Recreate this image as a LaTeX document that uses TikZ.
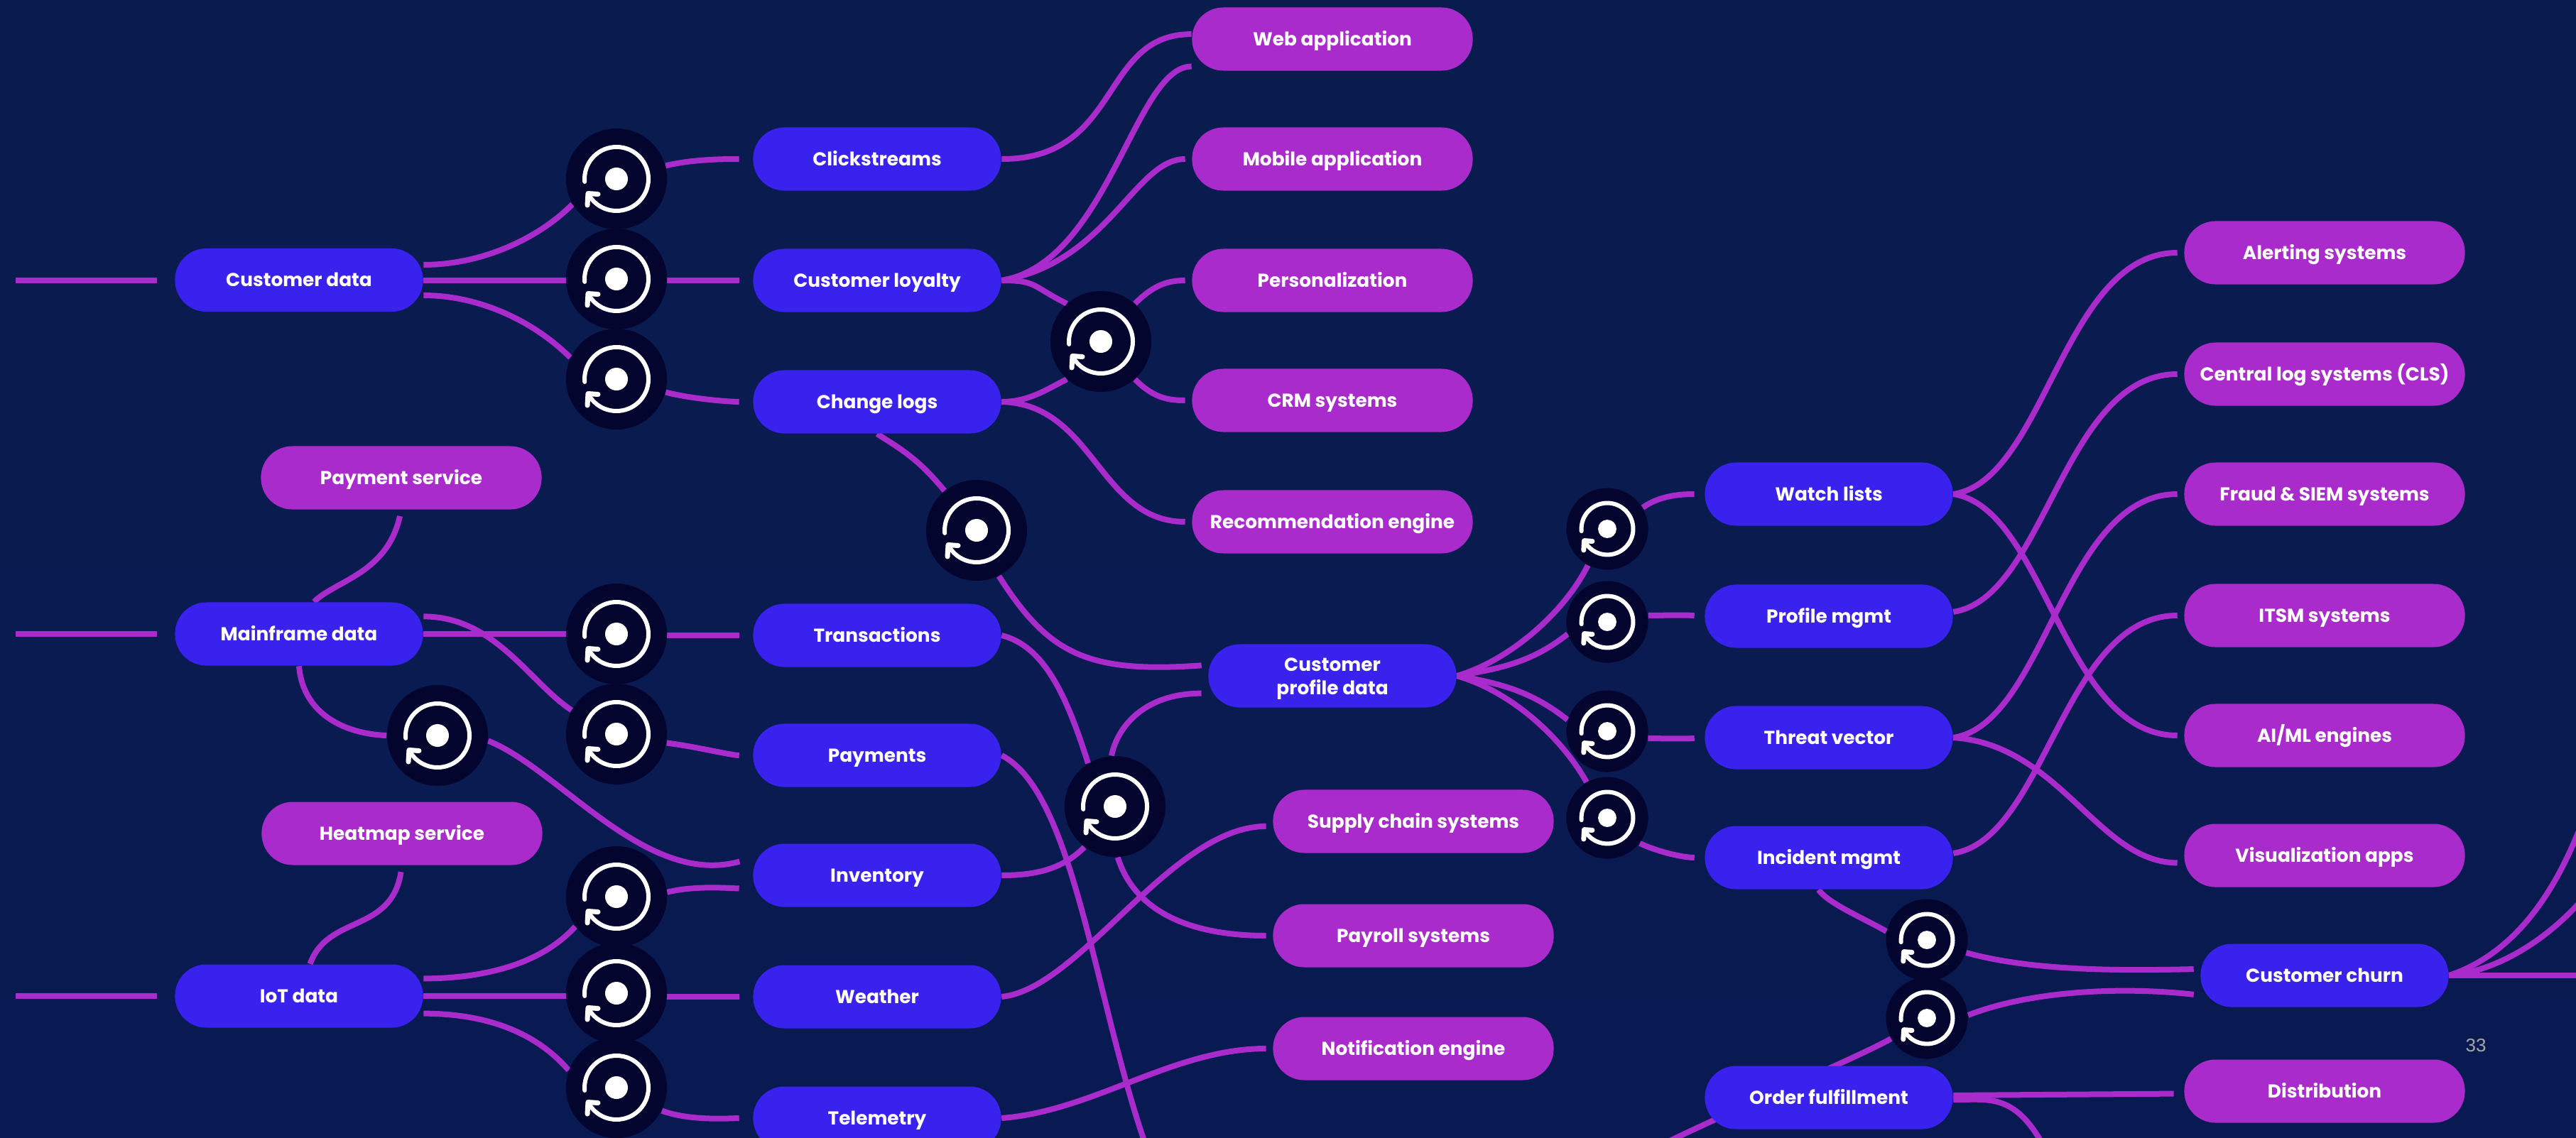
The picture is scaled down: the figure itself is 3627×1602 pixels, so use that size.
\documentclass[tikz,border=0pt]{standalone}
\usepackage{xcolor}
\usepackage{fontspec}
\usetikzlibrary{backgrounds}
\setmainfont{Poppins}
\newfontfamily\pagefont{Liberation Sans}
\definecolor{slidetop}{HTML}{0A1C4E}
\definecolor{slidemid}{HTML}{0B1E56}
\definecolor{slidelow}{HTML}{091A52}
\definecolor{pillblue}{HTML}{3A22EE}
\definecolor{pillpurple}{HTML}{A92BCC}
\definecolor{hubdark}{HTML}{03052F}
\begin{document}
\begin{tikzpicture}[x=0.01cm,y=-0.01cm,
  font=\fontsize{7.5}{9.2}\selectfont\bfseries,
  pill/.style={rectangle,rounded corners=0.44cm,text=white,align=center,minimum height=0.89cm,inner sep=0pt,text height=6pt,text depth=0.8pt},
  source/.style={pill,fill=pillblue,minimum width=3.49cm},
  sink/.style={pill,fill=pillpurple,minimum width=3.95cm},
  hubmark/.pic={
    \fill[white] (0,0) circle (16);
    \draw[white,line width=0.06cm,line cap=round,line join=round] (-44.8,3.9) arc[start angle=-185,end angle=147,radius=45] -- (-40,20.5);
    \draw[white,line width=0.07cm,line cap=round,line join=round] (-26,21.5) -- (-40,20.5) -- (-41,37);
  },
  bighub/.style={circle,fill=hubdark,minimum size=1.42cm,inner sep=0pt,
    path picture={\pic at (path picture bounding box.center) {hubmark};}},
  smallhub/.style={circle,fill=hubdark,minimum size=1.15cm,inner sep=0pt,
    path picture={\pic[scale=0.81] at (path picture bounding box.center) {hubmark};}},
  link/.style={draw=pillpurple,line width=0.08cm},
  gap/.style={shorten >=0.09cm},
  midgap/.style={shorten >=0.14cm},
  widegap/.style={shorten >=0.19cm}]
  \useasboundingbox (0,0) rectangle (3627,1602);

  \node[source] (custdata) at (421,394.5) {Customer data};
  \node[source] (mainframe) at (421,893) {Mainframe data};
  \node[source] (iotdata) at (421,1403) {IoT data};
  \node[sink] (payservice) at (565,673) {Payment service};
  \node[sink] (heatmap) at (566,1174) {Heatmap service};

  \node[source] (clickstreams) at (1235,224) {Clickstreams};
  \node[source] (loyalty) at (1235,395) {Customer loyalty};
  \node[source] (changelogs) at (1235,566) {Change logs};
  \node[source] (transactions) at (1235,895) {Transactions};
  \node[source] (payments) at (1235,1064) {Payments};
  \node[source] (inventory) at (1235,1233) {Inventory};
  \node[source] (weather) at (1235,1404) {Weather};
  \node[source] (telemetry) at (1235,1575) {Telemetry};

  \node[sink] (webapp) at (1876,55) {Web application};
  \node[sink] (mobileapp) at (1876,224) {Mobile application};
  \node[sink] (personal) at (1876,395) {Personalization};
  \node[sink] (crm) at (1876,564) {CRM systems};
  \node[sink] (recommend) at (1876,735) {Recommendation engine};

  \node[source,text height=,text depth=] (profile) at (1876,952) {\rule{0pt}{7.6pt}Customer\\profile data};
  \node[sink] (supply) at (1990,1157) {Supply chain systems};
  \node[sink] (payroll) at (1990,1318) {Payroll systems};
  \node[sink] (notify) at (1990,1477) {Notification engine};

  \node[source] (watch) at (2575,696) {Watch lists};
  \node[source] (profmgmt) at (2575,868) {Profile mgmt};
  \node[source] (threat) at (2575,1039) {Threat vector};
  \node[source] (incident) at (2575,1208) {Incident mgmt};
  \node[source] (order) at (2575,1546) {Order fulfillment};

  \node[sink] (alerting) at (3273,356) {Alerting systems};
  \node[sink] (centrallog) at (3273,527) {Central log systems (CLS)};
  \node[sink] (fraud) at (3273,696) {Fraud \& SIEM systems};
  \node[sink] (itsm) at (3273,867) {ITSM systems};
  \node[sink] (aiml) at (3273,1036) {AI/ML engines};
  \node[sink] (visual) at (3273,1205) {Visualization apps};
  \node[source] (churn) at (3273,1374) {Customer churn};
  \node[sink] (distrib) at (3273,1537) {Distribution};

  \node[bighub] (huba) at (868,252) {};
  \node[bighub] (hubb) at (868,393) {};
  \node[bighub] (hubc) at (868,534) {};
  \node[bighub] (hubd) at (868,893) {};
  \node[bighub] (hube) at (868,1034) {};
  \node[bighub] (hubf) at (616,1036) {};
  \node[bighub] (hubg) at (868,1263) {};
  \node[bighub] (hubh) at (868,1399) {};
  \node[bighub] (hubi) at (868,1532) {};
  \node[bighub] (hubj) at (1550,481) {};
  \node[bighub] (hubk) at (1375,747) {};
  \node[bighub] (hubl) at (1570,1136) {};
  \node[smallhub] (hubm) at (2263,745) {};
  \node[smallhub] (hubn) at (2263,876) {};
  \node[smallhub] (hubo) at (2263,1030) {};
  \node[smallhub] (hubp) at (2263,1152) {};
  \node[smallhub] (hubq) at (2713,1324) {};
  \node[smallhub] (hubr) at (2713,1434) {};

  \node[font=\pagefont\fontsize{7.4}{9}\selectfont,text=gray!70!white,inner sep=0pt] (pagenum) at (3486,1473) {33};

  \coordinate (custin) at (22,394.5);
  \coordinate (mainin) at (22,893);
  \coordinate (iotin) at (22,1403);
  \coordinate (payout) at (1612,1610);
  \coordinate (orderin) at (2345,1610);
  \coordinate (orderout) at (2875,1610);
  \coordinate (churnup) at (3635,1160);
  \coordinate (churnmid) at (3635,1268);
  \coordinate (churnoff) at (3635,1374);

  \begin{pgfonlayer}{background}
    \shade[top color=slidetop,middle color=slidemid,bottom color=slidelow] (0,0) rectangle (3627,1602);

    \draw[link,shorten >=0.25cm] (custin) -- (custdata.west);
    \draw[link,shorten >=0.25cm] (mainin) -- (mainframe.west);
    \draw[link,shorten >=0.25cm] (iotin) -- (iotdata.west);

    \draw[link] (custdata.7) .. controls +(80,0) and +(-50,50) .. (huba.210);
    \draw[link] (custdata.east) -- (custdata.east -| hubb);
    \draw[link] (custdata.353) .. controls +(80,0) and +(-50,-50) .. (hubc.155);
    \draw[link,widegap] (huba.15) .. controls +(40,-10) and +(-30,0) .. (clickstreams.west);
    \draw[link,widegap] (loyalty.west -| hubb) -- (loyalty.west);
    \draw[link,widegap] (hubc.345) .. controls +(40,10) and +(-30,0) .. (changelogs.west);

    \draw[link] (clickstreams.east) .. controls +(170,0) and +(-130,0) .. (webapp.178);
    \draw[link] (loyalty.east) .. controls +(150,-25) and +(-80,0) .. (webapp.191);
    \draw[link,gap] (loyalty.east) .. controls +(150,-25) and +(-80,0) .. (mobileapp.west);
    \draw[link] (loyalty.east) .. controls +(50,0) and +(-50,-25) .. (hubj.132);
    \draw[link] (changelogs.east) .. controls +(40,0) and +(-25,12) .. (hubj.228);
    \draw[link,gap] (hubj.48) .. controls +(25,-25) and +(-35,0) .. (personal.west);
    \draw[link,gap] (hubj.312) .. controls +(25,25) and +(-35,0) .. (crm.west);
    \draw[link,gap] (changelogs.east) .. controls +(130,3) and +(-130,0) .. (recommend.west);

    \draw[link] (changelogs.south) .. controls +(40,25) and +(-35,-42) .. (hubk.129);
    \draw[link,gap] (hubk.296) .. controls +(70,110) and +(-170,12) .. (profile.175);

    \draw[link,gap] (mainframe.65) .. controls +(30,-30) and +(-20,90) .. (payservice.south);
    \draw[link] (mainframe.south) .. controls +(5,62) and +(-67,-3) .. (hubf.west);
    \draw[link] (mainframe.east) -- (mainframe.east -| hubd);
    \draw[link] (mainframe.8) .. controls +(100,0) and +(-60,-40) .. (hube.152);
    \draw[link,widegap] (transactions.west -| hubd) -- (transactions.west);
    \draw[link,widegap] (hube.350) .. controls +(40,5) and +(-30,0) .. (payments.west);
    \draw[link,widegap] (hubf.354) .. controls +(100,40) and +(-150,42) .. (inventory.172);

    \draw[link,gap] (iotdata.71) .. controls +(25,-70) and +(-15,96) .. (heatmap.south);
    \draw[link] (iotdata.8) .. controls +(80,0) and +(-50,55) .. (hubg.216);
    \draw[link] (iotdata.east) -- (iotdata.east -| hubh);
    \draw[link] (iotdata.352) .. controls +(80,0) and +(-50,-58) .. (hubi.160);
    \draw[link,widegap] (hubg.5) .. controls +(40,-10) and +(-30,0) .. (inventory.186);
    \draw[link,widegap] (weather.west -| hubh) -- (weather.west);
    \draw[link,widegap] (hubi.333) .. controls +(40,15) and +(-30,0) .. (telemetry.west);

    \draw[link] (transactions.east) .. controls +(60,15) and +(-30,-95) .. (hubl.122);
    \draw[link] (payments.east) .. controls +(101,52) and +(-72,-210) .. (payout);
    \draw[link] (inventory.east) .. controls +(50,0) and +(-30,30) .. (hubl.233);
    \draw[link,gap] (hubl.94) .. controls +(8,-40) and +(-90,0) .. (profile.188);
    \draw[link,gap] (hubl.273) .. controls +(25,80) and +(-110,0) .. (payroll.west);
    \draw[link,gap] (weather.east) .. controls +(111,-11) and +(-143,0) .. (supply.182);
    \draw[link,gap] (telemetry.east) .. controls +(130,-10) and +(-140,0) .. (notify.west);

    \draw[link] (profile.east) .. controls +(70,-20) and +(-35,70) .. (hubm.242);
    \draw[link] (profile.east) .. controls +(60,-10) and +(-50,40) .. (hubn.197);
    \draw[link] (profile.east) .. controls +(60,10) and +(-50,-40) .. (hubo.164);
    \draw[link] (profile.east) .. controls +(70,20) and +(-40,-70) .. (hubp.120);
    \draw[link,midgap] (hubm.31) .. controls +(25,-18) and +(-30,0) .. (watch.west);
    \draw[link,midgap] (hubn.9) .. controls +(25,0) and +(-30,-2) .. (profmgmt.west);
    \draw[link,midgap] (hubo.350) .. controls +(25,0) and +(-30,2) .. (threat.west);
    \draw[link,midgap] (hubp.322) .. controls +(25,12) and +(-30,0) .. (incident.west);

    \draw[link,gap] (watch.east) .. controls +(130,-20) and +(-170,0) .. (alerting.west);
    \draw[link,gap] (watch.east) .. controls +(130,20) and +(-170,0) .. (aiml.west);
    \draw[link,gap] (profmgmt.2) .. controls +(130,-20) and +(-170,0) .. (centrallog.west);
    \draw[link,gap] (threat.east) .. controls +(130,-20) and +(-170,0) .. (fraud.west);
    \draw[link,gap] (threat.east) .. controls +(150,10) and +(-120,0) .. (visual.183);
    \draw[link,gap] (incident.2) .. controls +(130,-20) and +(-170,0) .. (itsm.west);

    \draw[link] (incident.252) .. controls +(15,20) and +(-35,-20) .. (hubq.168);
    \draw[link] (orderin) .. controls +(80,-40) and +(-50,28) .. (hubr.210);
    \draw[link,gap] (hubq.342) .. controls +(90,25) and +(-120,3) .. (churn.177);
    \draw[link,gap] (hubr.4) .. controls +(90,-35) and +(-110,-12) .. (churn.189);
    \draw[link] (churn.east) .. controls +(71,-24) and +(-50,130) .. (churnup);
    \draw[link] (churn.east) .. controls +(61,-5) and +(-55,62) .. (churnmid);
    \draw[link] (churn.east) -- (churnoff);
    \draw[link,midgap] (order.1) -- (distrib.181);
    \draw[link] (order.359) .. controls +(50,0) and +(-40,-70) .. (orderout);
  \end{pgfonlayer}
\end{tikzpicture}
\end{document}
